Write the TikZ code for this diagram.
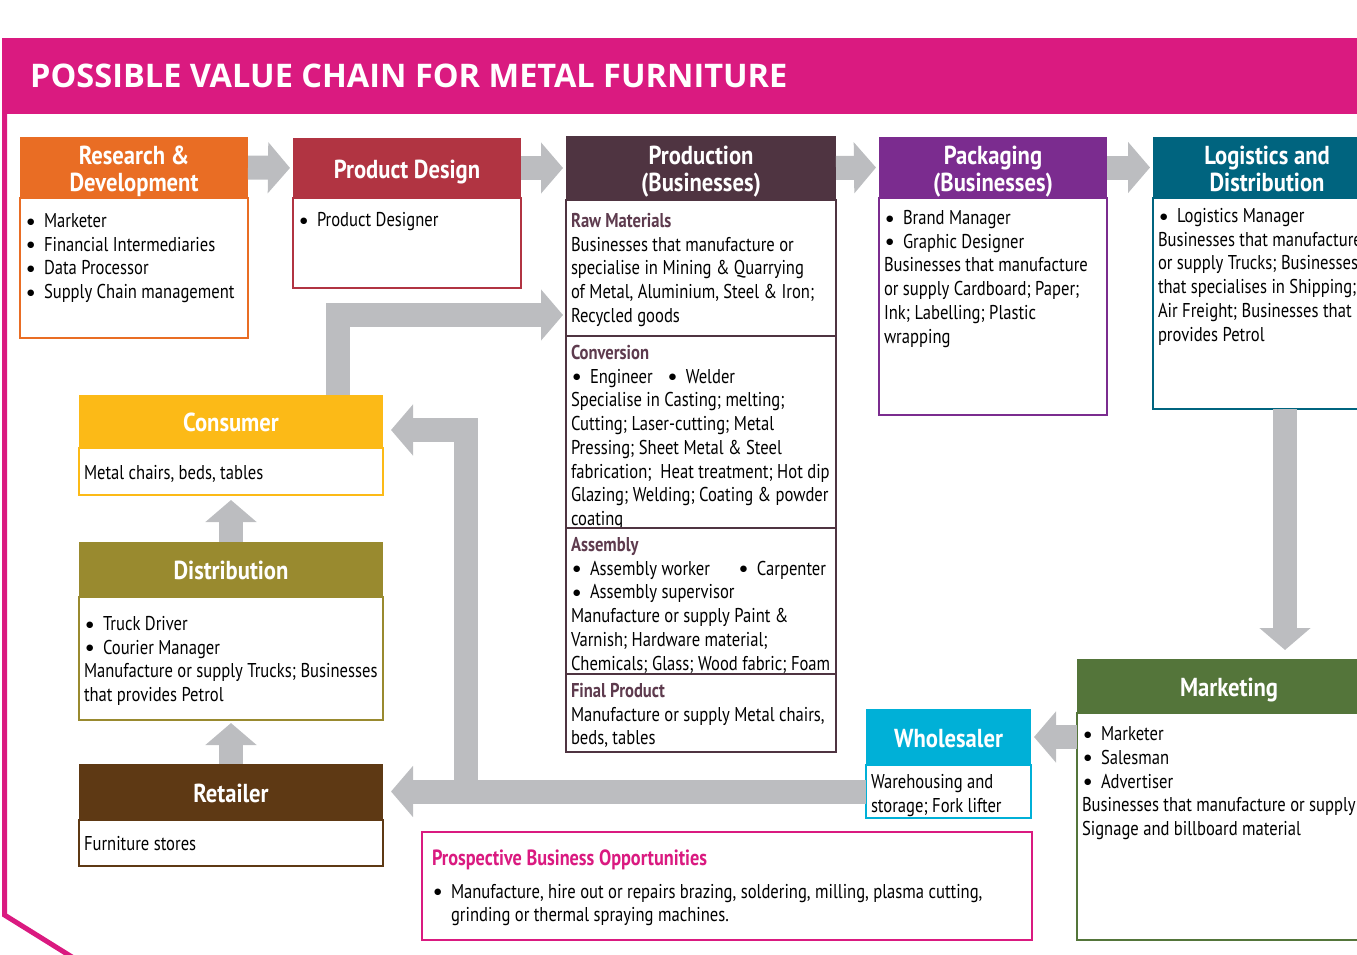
\documentclass[tikz,border=0pt]{standalone}
\usepackage{fontspec}
\setmainfont{PT Sans}
\newfontfamily\condfont[FakeStretch=0.83]{PT Sans}
\newfontfamily\headfont[FakeStretch=0.87]{PT Sans}
\newfontfamily\titlefont{Open Sans}
\newfontfamily\dotfont{DejaVu Sans}
\usetikzlibrary{positioning,arrows.meta}

\definecolor{vcpink}{HTML}{DA1A80}
\definecolor{vcorange}{HTML}{E96D24}
\definecolor{vcred}{HTML}{B13442}
\definecolor{vcplum}{HTML}{4F3441}
\definecolor{vcplumtext}{HTML}{5E3B4E}
\definecolor{vcpurple}{HTML}{7B2C8F}
\definecolor{vcteal}{HTML}{00647F}
\definecolor{vcgreen}{HTML}{54753A}
\definecolor{vccyan}{HTML}{00B0D7}
\definecolor{vcyellow}{HTML}{FCBA17}
\definecolor{vcolive}{HTML}{998A2F}
\definecolor{vcbrown}{HTML}{5E3914}
\definecolor{vcgray}{HTML}{BCBDC0}

\newcommand\bfnt{\condfont\fontsize{20}{23.7}\selectfont}
\newcommand\hfnt{\headfont\bfseries\fontsize{26}{27}\selectfont}
\newcommand\hs{\rule[-7pt]{0pt}{34pt}}
\newcommand\hd{\rule[-7pt]{0pt}{7pt}}
\newcommand\itm{\hspace{2pt}\makebox[17pt][l]{\raisebox{3.5pt}{\dotfont\fontsize{8.5}{9}\selectfont ●}}}
\newcommand\sect[1]{{\bfseries\color{vcplumtext}#1}}
\newcommand\bx[4][0pt]{\vbox to #3{\vskip\dimexpr#1+2pt\relax\hbox to #2{\begin{tabular}[t]{@{}l@{}}#4\end{tabular}\hss}\vfil}}

\tikzset{
  hdr/.style={fill=#1, text=white, font=\hfnt, align=center, inner sep=0pt, outer sep=0pt, anchor=north west},
  body/.style={draw=#1, line width=2.5pt, fill=white, inner sep=5pt, outer sep=0pt, font=\bfnt, text=black},
  garrow/.style={draw=vcgray, line width=24pt, -{Triangle[length=22pt,width=50pt]}, shorten >=3pt}
}

\begin{document}
\begin{tikzpicture}[x=1pt, y=-1pt]
        \useasboundingbox (0,0) rectangle (1357,955);
        \clip (0,0) rectangle (1357,955);

        % title band and frame
        \fill[vcpink] (2,38) rectangle (1360,114);
        \draw[vcpink, line width=5pt] (4.5,112) -- (4.5,915) -- (72,957);
        \node[anchor=west, inner sep=0pt, text=white, font=\titlefont\bfseries\fontsize{32.5}{36}\selectfont] (title) at (30,76) {POSSIBLE VALUE CHAIN FOR METAL FURNITURE};

        % top row
        \node[hdr=vcorange, minimum width=228pt, minimum height=61pt] (rd) at (20,137) {\hs Research \&\\\hd Development};
        \node[body=vcorange, below=0pt of rd] (rdb) {\bx[6pt]{218pt}{130pt}{\itm Marketer\\ \itm Financial Intermediaries\\ \itm Data Processor\\ \itm Supply Chain management}};

        \node[hdr=vcred, minimum width=228pt, minimum height=60pt] (pd) at (293,138) {\hs Product Design};
        \node[body=vcred, below=0pt of pd] (pdb) {\bx[5pt]{218pt}{80pt}{\itm Product Designer}};

        \node[hdr=vcplum, minimum width=270pt, minimum height=64pt] (pr) at (566,136) {\hs Production\\\hd (Businesses)};
        \node[body=vcplum, below=0pt of pr] (raw) {\bx[4pt]{260pt}{126pt}{\sect{Raw Materials}\\ Businesses that manufacture or\\ specialise in Mining \& Quarrying\\ of Metal, Aluminium, Steel \& Iron;\\ Recycled goods}};
        \node[body=vcplum, below=0pt of raw] (conv) {\bx{260pt}{182pt}{\sect{Conversion}\\ \itm Engineer\hspace{14pt}\itm Welder\\ Specialise in Casting; melting;\\ Cutting; Laser-cutting; Metal\\ Pressing; Sheet Metal \& Steel\\ fabrication;\ \ Heat treatment; Hot dip\\ Glazing; Welding; Coating \& powder\\ coating}};
        \node[body=vcplum, below=0pt of conv] (asm) {\bx{260pt}{136pt}{\sect{Assembly}\\ \itm Assembly worker\hspace{28pt}\itm Carpenter\\ \itm Assembly supervisor\\ Manufacture or supply Paint \&\\ Varnish; Hardware material;\\ Chemicals; Glass; Wood fabric; Foam}};
        \node[body=vcplum, below=0pt of asm] (fin) {\bx{260pt}{68pt}{\sect{Final Product}\\ Manufacture or supply Metal chairs,\\ beds, tables}};

        \node[hdr=vcpurple, minimum width=228pt, minimum height=61pt] (pk) at (879,137) {\hs Packaging\\\hd (Businesses)};
        \node[body=vcpurple, below=0pt of pk] (pkb) {\bx[3pt]{218pt}{207pt}{\itm Brand Manager\\ \itm Graphic Designer\\ Businesses that manufacture\\ or supply Cardboard; Paper;\\ Ink; Labelling; Plastic\\ wrapping}};

        \node[hdr=vcteal, minimum width=228pt, minimum height=61pt] (lg) at (1153,137) {\hs Logistics and\\\hd Distribution};
        \node[body=vcteal, below=0pt of lg] (lgb) {\bx[1pt]{218pt}{201pt}{\itm Logistics Manager\\ Businesses that manufacture\\ or supply Trucks; Businesses\\ that specialises in Shipping;\\ Air Freight; Businesses that\\ provides Petrol}};

        % left column
        \node[hdr=vcyellow, minimum width=304pt, minimum height=53pt] (cs) at (79,395) {\hs Consumer};
        \node[body=vcyellow, below=0pt of cs] (csb) {\bx[8pt]{294pt}{37pt}{Metal chairs, beds, tables}};

        \node[hdr=vcolive, minimum width=304pt, minimum height=55pt] (ds) at (79,542) {\hs Distribution};
        \node[body=vcolive, below=0pt of ds] (dsb) {\bx[10pt]{294pt}{113pt}{\itm Truck Driver\\ \itm Courier Manager\\ Manufacture or supply Trucks; Businesses\\ that provides Petrol}};

        \node[hdr=vcbrown, minimum width=304pt, minimum height=56pt] (rt) at (79,764) {\hs Retailer};
        \node[body=vcbrown, below=0pt of rt] (rtb) {\bx[7pt]{294pt}{36pt}{Furniture stores}};

        % bottom right
        \node[hdr=vccyan, minimum width=165pt, minimum height=56pt] (wh) at (866,709) {\hs Wholesaler};
        \node[body=vccyan, below=0pt of wh] (whb) {\bx{155pt}{43pt}{Warehousing and\\ storage; Fork lifter}};

        \node[hdr=vcgreen, minimum width=304pt, minimum height=54pt] (mk) at (1077,659) {\hs Marketing};
        \node[body=vcgreen, below=0pt of mk] (mkb) {\bx[4pt]{294pt}{217pt}{\itm Marketer\\ \itm Salesman\\ \itm Advertiser\\ Businesses that manufacture or supply\\ Signage and billboard material}};

        \node[body=vcpink, anchor=north west, inner xsep=10pt] (pbo) at (422,832) {\bx[10pt]{590pt}{98pt}{{\bfseries\color{vcpink}\fontsize{22}{23.7}\selectfont Prospective Business Opportunities}\\[9pt] \itm Manufacture, hire out or repairs brazing, soldering, milling, plasma cutting,\\ \hspace{19pt}grinding or thermal spraying machines.}};

        % flow
        \draw[garrow] (rd.east) -- (pd.west);
        \draw[garrow] (pd.east) -- (pr.west);
        \draw[garrow] (pr.east) -- (pk.west);
        \draw[garrow] (pk.east) -- (lg.west);
        \draw[garrow, shorten >=9pt] ([xshift=18pt]lgb.south) -- ([xshift=18pt]lgb.south |- mk.north);
        \draw[garrow] (mkb.west |- wh.east) -- (wh.east);
        \draw[garrow, shorten >=8pt] (whb.west) -- (whb.west -| rt.east);
        \coordinate (j) at (466,0 |- whb.west);
        \draw[garrow, shorten >=8pt] (j) |- ([yshift=18pt]cs.south east);
        \draw[garrow] ([xshift=107pt]cs.north) |- ([yshift=-47pt]raw.west);
        \draw[garrow, shorten >=5pt] (ds.north) -- (csb.south);
        \draw[garrow, shorten >=3pt] (rt.north) -- (dsb.south);
\end{tikzpicture}
\end{document}
